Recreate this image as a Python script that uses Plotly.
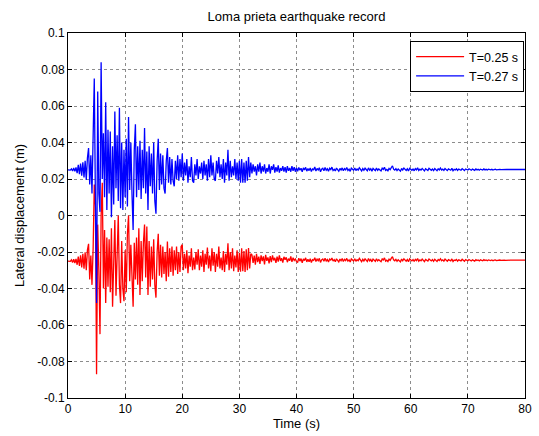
import numpy as np
import plotly.graph_objects as go

# Sampling interval of the record (s)
dt = 0.2

# Lateral displacement, T = 0.27 s (in mm)
disp_t027_mm = [
    25.0, 25.0, 24.9, 25.6, 24.4, 26.0, 24.2, 26.3,
    23.2, 27.8, 22.6, 28.4, 21.8, 29.2, 20.8, 30.0, 19.5,
    31.5, 37.0, 17.0, 33.0, 12.0, 45.0,
    75.0, 8.0, -48.0, 68.0, 12.0, 2.0, 84.0, 20.0,
    45.0, 10.0, 62.0, 3.0, 47.0, 12.0, 46.0, -1.0, 38.0, 6.0,
    57.0, 15.0, 44.0, 8.0, 59.0, 4.0, 40.0, 3.0, 36.0, 10.0,
    42.0, 5.0, 54.0, 14.0, 40.0, 12.0, -8.0, 36.0, 50.0, 10.0,
    38.0, 14.0, 41.0, 9.0, 36.0, 15.0, 48.0, 12.0, 35.0, 3.0,
    38.0, 16.0, 34.0, 12.0, 40.0, 8.0, 1.0, 30.0, 42.0, 14.0,
    34.0, 17.0, 33.0, 15.0, 12.0, 30.0, 37.0, 18.0, 32.0, 17.0,
    31.0, 19.0, 16.0, 30.0, 20.0, 33.0, 19.0, 31.0, 21.0, 34.0,
    19.0, 29.0, 22.0, 31.0, 18.0, 27.0, 21.0, 32.0, 19.0, 18.0,
    28.0, 22.0, 31.0, 20.0, 27.0, 23.0, 29.0, 20.0, 30.0, 22.0,
    28.0, 19.0, 31.0, 21.0, 33.0, 22.0, 29.0, 20.0, 19.0, 30.0,
    23.0, 32.0, 21.0, 28.0, 20.0, 31.0, 18.0, 29.0, 22.0, 36.0,
    19.0, 30.0, 21.0, 27.0, 22.0, 31.0, 20.0, 29.0, 19.0, 30.0,
    18.0, 31.0, 18.0, 29.0, 18.0, 30.0, 19.0, 32.0, 21.0, 29.0,
    23.0, 28.0, 24.0, 27.0, 22.0, 28.0, 24.0, 29.0, 23.0, 27.0,
    24.0, 28.0, 23.0, 26.0, 24.0, 28.0, 23.0, 27.0, 25.0, 28.0,
    23.5, 26.5, 24.0, 27.5, 23.5, 26.0, 24.5, 27.0, 24.0, 26.5,
    23.5, 27.0, 24.5, 26.0, 24.0, 27.0, 24.5, 26.5, 24.0, 26.0,
    24.2, 26.3, 24.8, 25.9, 23.9, 26.1, 25.0, 26.4, 24.3, 25.7,
    24.6, 26.0, 24.1, 25.5, 25.1, 26.6, 24.4, 25.8, 24.9, 26.2,
    24.0, 25.4, 25.9, 24.5, 26.3, 24.8, 25.6, 24.2, 25.9, 25.2,
    26.5, 24.6, 25.3, 24.4, 26.0, 25.1, 24.3, 25.8, 24.9, 26.1,
    24.5, 25.7, 25.0, 26.3, 24.7, 25.4, 24.2, 25.9, 25.3, 24.8,
    26.0, 24.6, 25.5, 24.9, 26.2, 25.0, 24.4, 25.7, 24.8, 25.9,
    25.2, 24.5, 26.1, 24.9, 25.6, 24.3, 25.8, 25.1, 24.6, 26.0,
    24.8, 25.5, 25.0, 24.4, 25.9, 25.3, 26.4, 24.7, 25.2, 24.5,
    25.8, 25.1, 26.3, 27.2, 25.4, 24.9, 25.7, 24.6, 25.5, 25.0,
    24.3, 25.8, 24.9, 26.0, 25.2, 24.7, 25.6, 24.4, 25.9, 25.1,
    24.8, 25.5, 24.5, 25.7, 25.0, 26.1, 24.6, 25.4, 24.9, 25.8,
    25.2, 24.4, 25.6, 25.0, 24.7, 25.9, 25.3, 24.8, 25.5, 24.6,
    25.7, 25.1, 24.5, 25.6, 25.0, 26.0, 24.9, 25.4, 24.7, 25.8,
    25.0, 24.6, 25.5, 25.2, 24.8, 25.9, 24.5, 25.3, 25.0, 25.6,
    24.7, 25.4, 25.1, 24.8, 25.7, 25.0, 24.6, 25.5, 25.2, 24.9,
    25.6, 25.0, 24.8, 25.4, 25.1, 24.7, 25.5, 25.0, 25.3, 24.8,
    25.4, 25.1, 24.9, 25.5, 25.0, 25.3, 24.9, 25.4, 25.1, 25.0,
    25.3, 24.9, 25.2, 25.4, 25.0, 25.2, 25.1, 25.3, 25.1, 25.2,
    25.2, 25.2, 25.1, 25.2, 25.2, 25.2, 25.3, 25.2, 25.2, 25.2,
    25.2, 25.2, 25.2, 25.1, 25.2, 25.2, 25.2, 25.2, 25.2, 25.2,
]

# Lateral displacement, T = 0.25 s (in mm)
disp_t025_mm = [
    -25.0, -25.0, -25.1, -24.3, -25.8, -24.0, -26.0, -23.8,
    -27.0, -22.5, -27.6, -21.8, -28.4, -21.0, -29.2, -20.2, -30.0,
    -19.0, -15.5, -35.0, -22.0, -38.0, -18.0,
    17.0, 5.0, -87.0, -5.0, -30.0, -65.0, 0.0, 18.0,
    -40.0, -8.0, -48.0, -12.0, -39.0, -13.0, -42.0, -7.0, -50.0, -15.0,
    -2.5, -44.0, -18.0, 0.0, -38.0, -48.0, -14.0, -40.0, -47.0, -19.0,
    -42.0, -10.0, 0.0, -36.0, -16.0, -40.0, -50.0, -15.0, -35.0, -12.0,
    -38.0, -7.0, -43.6, -14.0, -36.0, -15.0, -5.0, -34.0, -6.0, -43.6,
    -14.0, -39.0, -17.0, -35.0, -13.0, -38.0, -45.0, -20.0, -10.0, -33.0,
    -16.0, -34.0, -17.0, -32.0, -20.0, -36.0, -14.3, -33.5, -18.0, -31.0,
    -17.0, -33.0, -19.0, -30.0, -17.0, -32.0, -20.0, -31.0, -17.0, -16.0,
    -30.0, -21.0, -29.0, -19.0, -31.6, -22.0, -28.0, -18.0, -30.0, -23.0,
    -29.5, -20.0, -27.0, -18.5, -30.0, -22.0, -28.0, -19.0, -31.0, -21.0,
    -27.0, -17.5, -29.0, -22.0, -30.5, -18.0, -27.5, -20.0, -31.0, -21.0,
    -28.0, -17.0, -29.0, -23.0, -30.0, -19.5, -31.0, -21.0, -27.0, -15.2,
    -30.0, -20.0, -29.0, -18.0, -30.5, -22.0, -28.5, -19.0, -31.0, -20.5,
    -30.8, -18.0, -30.5, -19.5, -31.0, -18.5, -30.0, -17.8, -29.0, -21.0,
    -21.5, -26.0, -22.0, -27.0, -21.0, -25.5, -22.5, -26.5, -21.8, -25.0,
    -22.4, -26.8, -21.6, -24.8, -23.0, -26.2, -22.2, -25.6, -21.9, -24.6,
    -23.2, -26.0, -22.5, -25.3, -21.8, -24.9, -23.4, -25.8, -22.6, -24.3,
    -22.9, -25.6, -23.6, -24.8, -22.4, -25.4, -23.1, -24.6, -23.8, -25.2,
    -25.6, -23.4, -25.0, -23.6, -25.9, -23.8, -24.7, -23.2, -25.4, -24.0,
    -25.3, -23.7, -25.8, -24.2, -24.6, -23.1, -25.2, -23.9, -24.8, -23.5,
    -25.7, -24.3, -23.8, -25.1, -23.4, -24.9, -24.1, -25.5, -23.9, -24.4,
    -23.3, -25.0, -24.2, -25.3, -23.7, -24.6, -25.4, -23.9, -24.8, -23.6,
    -25.2, -24.0, -24.7, -23.5, -25.0, -24.3, -25.5, -23.8, -24.4, -24.9,
    -23.7, -25.1, -24.2, -24.8, -23.5, -24.6, -25.3, -24.0, -24.9, -23.8,
    -24.5, -25.2, -23.6, -24.8, -24.1, -25.4, -23.9, -24.6, -25.1, -23.7,
    -24.9, -24.2, -24.7, -25.3, -23.8, -24.4, -23.2, -25.0, -24.5, -25.2,
    -23.9, -24.6, -23.4, -22.6, -24.3, -24.8, -24.0, -25.1, -24.2, -24.7,
    -25.4, -23.9, -24.8, -23.7, -24.5, -25.0, -24.1, -25.3, -23.8, -24.6,
    -24.9, -24.2, -25.2, -24.0, -24.7, -23.6, -25.1, -24.3, -24.8, -23.9,
    -24.5, -25.3, -24.1, -24.7, -25.0, -23.8, -24.4, -24.9, -24.2, -25.1,
    -24.0, -24.6, -25.2, -24.1, -24.7, -23.7, -24.8, -24.3, -25.0, -23.9,
    -24.7, -25.1, -24.2, -24.5, -24.9, -23.8, -25.2, -24.4, -24.7, -24.1,
    -25.0, -24.3, -24.6, -24.9, -24.0, -24.7, -25.1, -24.2, -24.5, -24.8,
    -24.1, -24.7, -24.9, -24.3, -24.6, -25.0, -24.2, -24.7, -24.4, -24.9,
    -24.3, -24.6, -24.8, -24.2, -24.7, -24.4, -24.8, -24.3, -24.6, -24.7,
    -24.4, -24.8, -24.5, -24.3, -24.7, -24.5, -24.6, -24.4, -24.6, -24.5,
    -24.5, -24.5, -24.6, -24.5, -24.5, -24.4, -24.5, -24.5, -24.5, -24.6,
    -24.5, -24.5, -24.5, -24.5, -24.4, -24.5, -24.5, -24.5, -24.5, -24.5,
]

series_names = ["T=0.25 s", "T=0.27 s"]
series_colors = ["#ff0000", "#0000ff"]

x_tick_vals = [0, 10, 20, 30, 40, 50, 60, 70, 80]
y_tick_vals = [-0.1, -0.08, -0.06, -0.04, -0.02, 0, 0.02, 0.04, 0.06, 0.08, 0.1]
y_tick_text = ["-0.1", "-0.08", "-0.06", "-0.04", "-0.02", "0",
               "0.02", "0.04", "0.06", "0.08", "0.1"]

t_red = np.arange(len(disp_t025_mm)) * dt
t_blue = np.arange(len(disp_t027_mm)) * dt

fig = go.Figure()
fig.add_trace(go.Scatter(x=t_red, y=np.array(disp_t025_mm) / 1000.0, mode="lines",
                         name=series_names[0], line=dict(color=series_colors[0], width=1.3)))
fig.add_trace(go.Scatter(x=t_blue, y=np.array(disp_t027_mm) / 1000.0, mode="lines",
                         name=series_names[1], line=dict(color=series_colors[1], width=1.3)))

font_family = "Liberation Sans, Arial, sans-serif"
fig.update_layout(
    width=539, height=436,
    margin=dict(l=68, r=7, t=33, b=38),
    paper_bgcolor="white", plot_bgcolor="white",
    font=dict(family=font_family, size=12, color="black"),
    title=dict(text="Loma prieta earthquake record", x=0.5, xref="paper",
               xanchor="center", y=1 - 16 / 436, yanchor="middle",
               font=dict(size=13, color="black")),
    showlegend=True,
    legend=dict(x=0.998, y=0.978, xanchor="right", yanchor="top",
                bgcolor="white", bordercolor="black", borderwidth=1,
                font=dict(size=12.5), tracegroupgap=0, itemwidth=48),
)
fig.update_xaxes(
    range=[0, 80], tickvals=x_tick_vals, ticks="inside", ticklen=4,
    tickcolor="black", showline=True, linecolor="black", linewidth=1,
    mirror="ticks", showgrid=True, gridcolor="rgba(0,0,0,0.45)",
    griddash="dot", gridwidth=1, zeroline=False,
    title=dict(text="Time (s)", standoff=3, font=dict(size=13)), tickfont=dict(size=12),
)
fig.update_yaxes(
    range=[-0.1, 0.1], tickvals=y_tick_vals, ticktext=y_tick_text,
    ticks="inside", ticklen=4, tickcolor="black", showline=True,
    linecolor="black", linewidth=1, mirror="ticks", showgrid=True,
    gridcolor="rgba(0,0,0,0.45)", griddash="dot", gridwidth=1, zeroline=False,
    title=dict(text="Lateral displacement (m)", standoff=9, font=dict(size=13)),
    tickfont=dict(size=12),
)

fig.write_html("out.html")
